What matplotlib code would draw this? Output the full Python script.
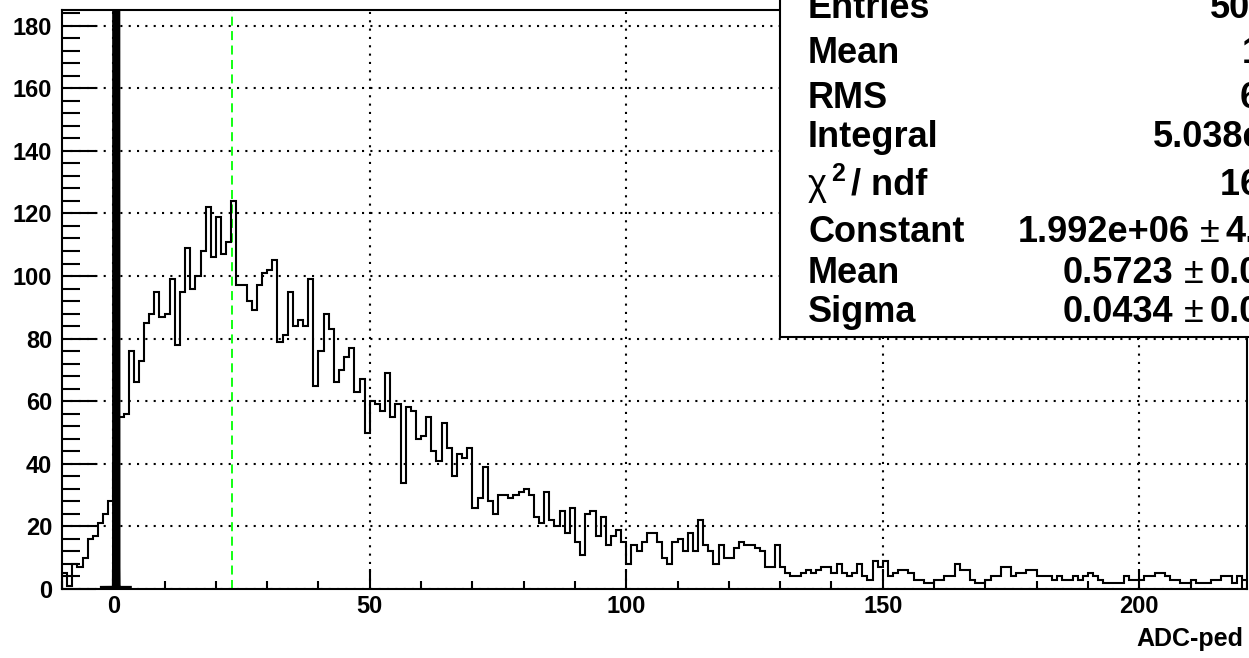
import numpy as np
import matplotlib
matplotlib.use('Agg')
import matplotlib.pyplot as plt
from matplotlib.patches import Rectangle
from matplotlib.ticker import MultipleLocator

# ADC-ped spectrum, bins of width 1 starting at -10
bin_lo = -10
counts = [5, 1, 8, 7, 10, 16, 17, 21, 24, 28,
          40,
          55, 56, 76, 66, 73, 85, 88, 95, 87, 88,
          99, 78, 95, 109, 96, 100, 108, 122, 106, 119,
          107, 111, 124, 97, 97, 92, 89, 97, 101, 102,
          105, 79, 81, 95, 84, 86, 84, 99, 65, 76,
          88, 83, 66, 70, 74, 77, 63, 67, 50, 60,
          59, 57, 69, 55, 59, 34, 58, 57, 48, 49,
          55, 44, 41, 53, 45, 36, 43, 42, 45, 26,
          29, 39, 28, 24, 30, 30, 29, 30, 31, 32,
          30, 23, 21, 31, 22, 20, 25, 18, 26, 15,
          11, 24, 25, 17, 23, 14, 17, 19, 15, 8,
          14, 12, 15, 18, 18, 15, 10, 8, 15, 16,
          12, 18, 12, 22, 14, 12, 8, 14, 10, 10,
          13, 15, 14, 14, 13, 12, 7, 7, 14, 7,
          5, 4, 4, 5, 6, 5, 6, 7, 7, 5,
          8, 5, 4,
          5, 8, 4, 3, 9, 7, 9, 4, 5, 6,
          6, 5, 3, 3, 2, 2, 3, 3, 4, 4,
          8, 6, 6, 3, 2, 2, 3, 4, 4, 7,
          7, 4, 5, 5, 6, 6, 4, 4, 4, 3,
          4, 3, 3, 4, 3, 4, 5, 4, 3, 2,
          2, 2, 2, 4, 3, 3, 3, 4, 4, 5,
          5, 4, 3, 3, 2, 2, 3, 2, 2, 2,
          3, 3, 4, 4, 2, 4, 3]

# gaus fit of the pedestal
fit_const = 1.992e6
fit_mean = 0.5723
fit_sigma = 0.0434
fit_range = (-2.0, 3.0)

cut_x = 23.2

stat_labels = ["Entries", "Mean", "RMS", "Integral", None,
               "Constant", "Mean", "Sigma"]
stat_values = ["5038", "14.62", "6.372", "5.038e+03", "1649 / 3",
               ("1.992e+06", "4.182e+04"), ("0.5723", "0.0024"), ("0.0434", "0.0018")]

W, H = 1249, 658
plt.rcParams['font.family'] = ['Liberation Sans', 'DejaVu Sans']
plt.rcParams['font.weight'] = 'bold'

fig = plt.figure(figsize=(W / 100, H / 100), dpi=100)
ax = fig.add_axes([62 / W, 1 - 589 / H, 1185 / W, 579 / H])

edges = np.arange(bin_lo, bin_lo + len(counts) + 1)
ax.stairs(counts, edges, color='k', lw=1.5, baseline=0, zorder=3)

xf = np.linspace(fit_range[0], fit_range[1], 6001)
yf = fit_const * np.exp(-0.5 * ((xf - fit_mean) / fit_sigma) ** 2)
ax.plot(xf, yf, color='k', lw=4.5, zorder=4)

ax.axvline(cut_x, color='#00ff00', lw=1.3, ls=(0, (5, 3)), zorder=2)

ax.set_xlim(-10, 221)
ax.set_ylim(0, 185)

ax.xaxis.set_major_locator(MultipleLocator(50))
ax.xaxis.set_minor_locator(MultipleLocator(10))
ax.yaxis.set_major_locator(MultipleLocator(20))
ax.yaxis.set_minor_locator(MultipleLocator(4))

ax.tick_params(which='both', direction='in', top=False, right=False, width=1.5,
               labelsize=17)
ax.tick_params(axis='y', which='major', length=24.5, pad=7)
ax.tick_params(axis='y', which='minor', length=13)
ax.tick_params(axis='x', which='major', length=14.5, pad=4)
ax.tick_params(axis='x', which='minor', length=6)
for lab in ax.get_xticklabels() + ax.get_yticklabels():
    lab.set_fontweight('bold')

ax.set_axisbelow(True)
ax.grid(which='major', color='k', ls=(0, (1, 3)), lw=1.5)
for sp in ax.spines.values():
    sp.set_linewidth(1.5)

fig.text(1243 / W, 1 - 639 / H, "ADC-ped", ha='right', va='center',
         fontsize=18, fontweight='bold')

# stats box (runs off the canvas on top and right)
box = Rectangle((780 / W, 1 - 337 / H), 1.0, 1.0, transform=fig.transFigure,
                facecolor='white', edgecolor='black', lw=1.5, zorder=10)
fig.add_artist(box)


def px_text(x, y, s, size=26, weight='bold', **kw):
    fig.text(x / W, 1 - y / H, s, ha='left', va='baseline', fontsize=size,
             fontweight=weight, zorder=11, **kw)


baselines = [18, 63, 108, 147, 195, 242, 283, 322]
value_x = [1210, 1242, 1240, 1153, 1220, 1018, 1063, 1063]
for lab, val, yb, xv in zip(stat_labels, stat_values, baselines, value_x):
    if lab is None:
        # chi2 / ndf row
        px_text(808, yb, "\u03c7", weight='normal')
        px_text(831, yb - 14, "2", size=18)
        px_text(851, yb, "/ ndf")
    else:
        px_text(808, yb, lab)
    if isinstance(val, tuple):
        t = fig.text(xv / W, 1 - yb / H, val[0], ha='left', va='baseline',
                     fontsize=26, fontweight='bold', zorder=11)
        fig.canvas.draw()
        bb = t.get_window_extent()
        xpm = bb.x1 + 10
        px_text(xpm, yb, "\u00b1", weight='normal')
        px_text(xpm + 26, yb, val[1])
    else:
        px_text(xv, yb, val)

fig.savefig("out.png", dpi=100)
